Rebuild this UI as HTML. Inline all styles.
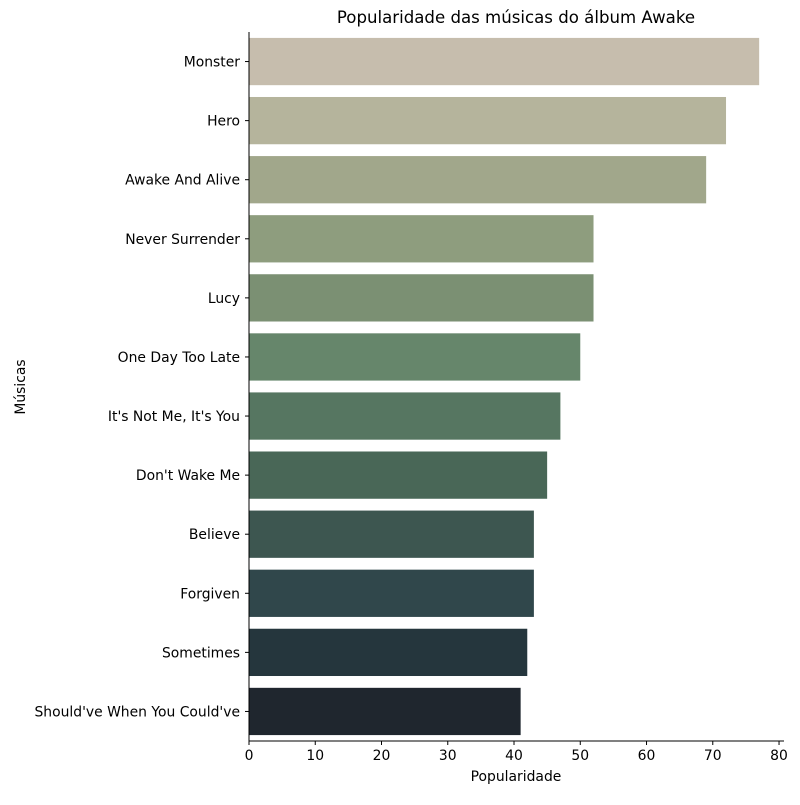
<!DOCTYPE html>
<html><head><meta charset="utf-8"><style>
body{margin:0;background:#fff}
svg{font-family:"DejaVu Sans","Liberation Sans",sans-serif}
</style></head><body>
<svg id="chart" width="800" height="800">
<text x="516" y="23" font-size="16.6" text-anchor="middle">Popularidade das músicas do álbum Awake</text>
<g id="bars"></g>
<g id="yticks"></g>
<g id="xticks"></g>
<line x1="249" y1="32" x2="249" y2="741" stroke="#000" stroke-width="1"/>
<line x1="249" y1="741" x2="784" y2="741" stroke="#000" stroke-width="1"/>
<text x="516" y="781" font-size="13.9" text-anchor="middle">Popularidade</text>
<text x="25" y="387" font-size="13.9" text-anchor="middle" transform="rotate(-90 25 387)">Músicas</text>
</svg>
<script>
const categories=["Monster","Hero","Awake And Alive","Never Surrender","Lucy","One Day Too Late","It's Not Me, It's You","Don't Wake Me","Believe","Forgiven","Sometimes","Should've When You Could've"];
const values=[77,72,69,52,52,50,47,45,43,43,42,41];
const xTickLabels=[0,10,20,30,40,50,60,70,80];
const colors=["#c6bdad","#b5b49c","#a1a78b","#8e9d7e","#7b9073","#66866b","#567661","#496757","#3d5650","#30474b","#25363d","#1f262e"];
const ns="http://www.w3.org/2000/svg";
const x0=249,x1=784,xmax=80.75,yTop=32,yBot=741;
const xs=v=>x0+v/xmax*(x1-x0);
const band=(yBot-yTop)/categories.length;
const bars=document.getElementById('bars'),yt=document.getElementById('yticks'),xt=document.getElementById('xticks');
categories.forEach((c,i)=>{
 const r=document.createElementNS(ns,'rect');
 
 
 r.setAttribute('x',x0);r.setAttribute('y',yTop+band*i+band*0.1);
 r.setAttribute('width',xs(values[i])-x0);r.setAttribute('height',band*0.8);
 r.setAttribute('fill',colors[i]);bars.appendChild(r);
 const cy=yTop+band*(i+0.5);
 const l=document.createElementNS(ns,'line');
 
 
 l.setAttribute('x1',x0-4);l.setAttribute('x2',x0);l.setAttribute('y1',cy);l.setAttribute('y2',cy);l.setAttribute('stroke','#000');yt.appendChild(l);
 const t=document.createElementNS(ns,'text');
 
 
 t.setAttribute('x',x0-9);t.setAttribute('y',cy+5);t.setAttribute('font-size','13.9');t.setAttribute('text-anchor','end');t.textContent=c;yt.appendChild(t);
});
xTickLabels.forEach(v=>{
 const x=xs(v);
 const l=document.createElementNS(ns,'line');
 
 
 l.setAttribute('x1',x);l.setAttribute('x2',x);l.setAttribute('y1',yBot);l.setAttribute('y2',yBot+4);l.setAttribute('stroke','#000');xt.appendChild(l);
 const t=document.createElementNS(ns,'text');
 
 
 t.setAttribute('x',x);t.setAttribute('y',yBot+19);t.setAttribute('font-size','13.9');t.setAttribute('text-anchor','middle');t.textContent=v;xt.appendChild(t);
});
</script>
</body></html>
